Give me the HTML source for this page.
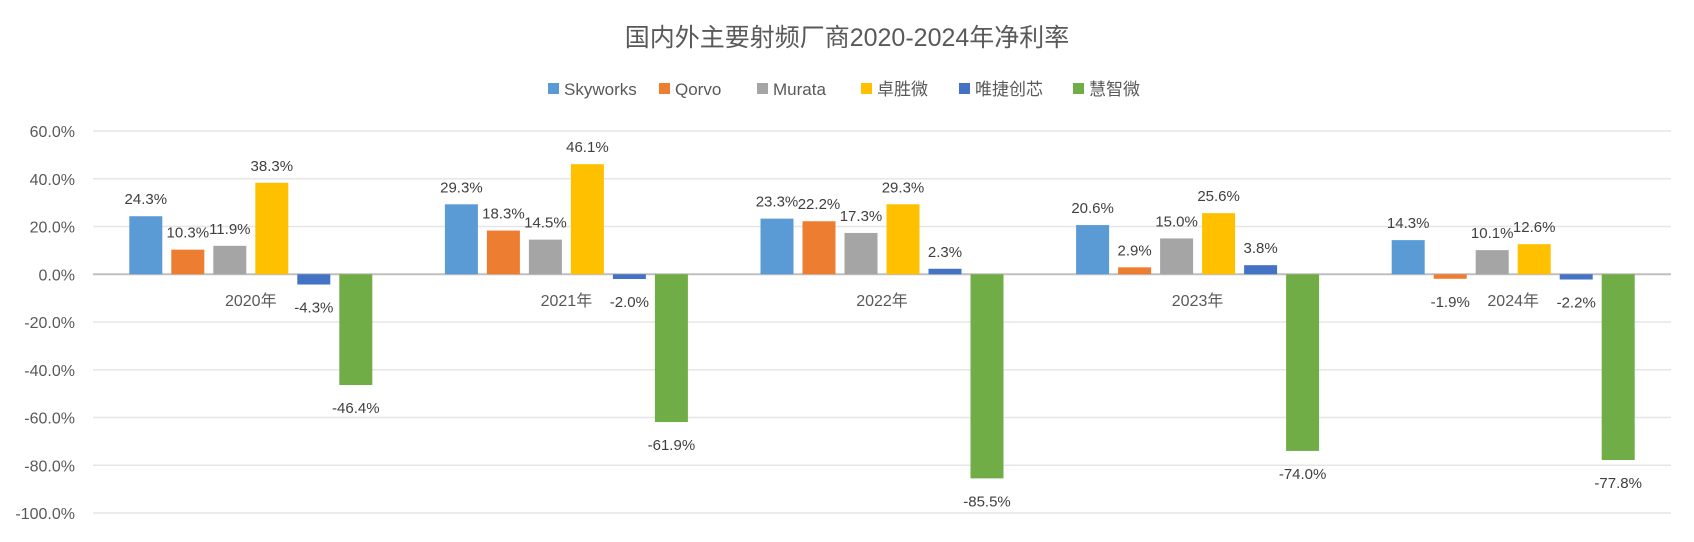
<!DOCTYPE html>
<html><head><meta charset="utf-8"><style>
body{margin:0;background:#fff;}
svg text{font-family:"Liberation Sans","Noto Sans CJK SC",sans-serif;fill:#595959;}
</style></head><body>
<svg id="chart" width="1694" height="537" xmlns="http://www.w3.org/2000/svg">
<text x="847" y="46" font-size="25" text-anchor="middle">国内外主要射频厂商2020-2024年净利率</text>
<g id="legend"></g>
<g id="grid"></g>
<g id="yaxis"></g>
<g id="bars"></g>
<g id="xaxis"></g>
</svg>
<script>
const categories=["2020年","2021年","2022年","2023年","2024年"];
const seriesNames=["Skyworks","Qorvo","Murata","卓胜微","唯捷创芯","慧智微"];
const seriesColors=["#5b9bd5","#ed7d31","#a5a5a5","#ffc000","#4472c4","#70ad47"];
const skyworks=[24.3,29.3,23.3,20.6,14.3];
const qorvo=[10.3,18.3,22.2,2.9,-1.9];
const murata=[11.9,14.5,17.3,15.0,10.1];
const zhuosheng=[38.3,46.1,29.3,25.6,12.6];
const weijie=[-4.3,-2.0,2.3,3.8,-2.2];
const huizhi=[-46.4,-61.9,-85.5,-74.0,-77.8];
const yTicks=[60,40,20,0,-20,-40,-60,-80,-100];
const allSeries=[skyworks,qorvo,murata,zhuosheng,weijie,huizhi];

const NS="http://www.w3.org/2000/svg";
const plotL=93,plotR=1671,yTop=131,yBot=513,vMax=60,vMin=-100;
function y(v){return yTop+(vMax-v)/(vMax-vMin)*(yBot-yTop);}
const catW=(plotR-plotL)/categories.length;
const barW=33,barGap=9;
function x(ci,si){const span=allSeries.length*barW+(allSeries.length-1)*barGap;return plotL+ci*catW+(catW-span)/2+si*(barW+barGap);}
function mk(tag,attrs,parent){const e=document.createElementNS(NS,tag);for(const k in attrs)e.setAttribute(k,attrs[k]);parent.appendChild(e);return e;}

const grid=document.getElementById('grid'),yaxis=document.getElementById('yaxis');
yTicks.forEach(t=>{
  const l=mk('line',{x1:plotL,x2:plotR,y1:y(t),y2:y(t),stroke:t===0?'#bfbfbf':'#e6e6e6','stroke-width':t===0?2:1.5},grid);
  
  
  const tx=mk('text',{x:75,y:y(t)+6,'font-size':16,'text-anchor':'end'},yaxis);
  
  
  tx.textContent=t.toFixed(1)+'%';
});

const bars=document.getElementById('bars');
allSeries.forEach((s,si)=>{
  s.forEach((v,ci)=>{
    const y0=y(0),yv=y(v);
    const r=mk('rect',{x:x(ci,si),y:Math.min(y0,yv),width:barW,height:Math.abs(yv-y0),fill:seriesColors[si]},bars);
    
    
    const lb=mk('text',{x:x(ci,si)+barW/2,y:v>=0?yv-12:yv+28,'font-size':15,'text-anchor':'middle',style:'fill:#404040'},bars);
    
    
    lb.textContent=v.toFixed(1)+'%';
  });
});

const xaxis=document.getElementById('xaxis');
categories.forEach((c,ci)=>{
  const t=mk('text',{x:plotL+ci*catW+catW/2,y:306,'font-size':16,'text-anchor':'middle'},xaxis);
  
  
  t.textContent=c;
});

const legend=document.getElementById('legend');
const itemW=[95,82,88,82,98,80];
let lx=548;
seriesNames.forEach((n,i)=>{
  const g=mk('g',{},legend);
  
  
  mk('rect',{x:lx,y:83,width:11,height:11,fill:seriesColors[i]},g);
  const t=mk('text',{x:lx+16,y:95,'font-size':17},g);
  t.textContent=n;
  lx+=itemW[i]+16;
});
</script>
</body></html>
